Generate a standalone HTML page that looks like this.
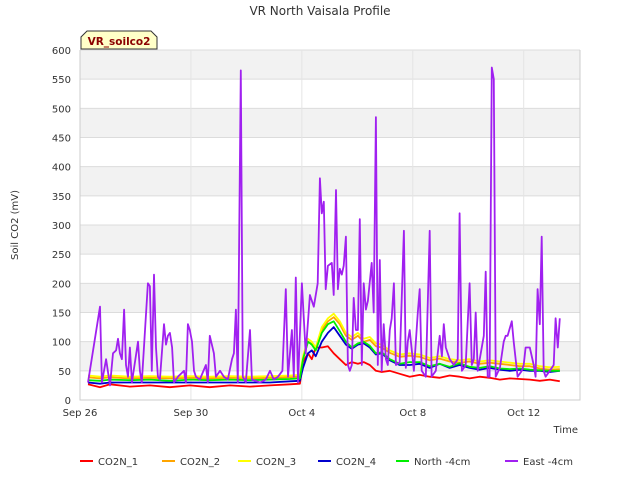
<!DOCTYPE html>
<html><head><meta charset="utf-8"><style>
body{margin:0;background:#fff}
svg{font-family:"DejaVu Sans","Liberation Sans",sans-serif}
</style></head><body>
<svg id="c" width="640" height="480"></svg>
<script>
const yTicks=[0,50,100,150,200,250,300,350,400,450,500,550,600];
const xTickDays=[0,4,8,12,16];
const xTickLabels=["Sep 26","Sep 30","Oct 4","Oct 8","Oct 12"];
const seriesNames=["CO2N_1","CO2N_2","CO2N_3","CO2N_4","North -4cm","East -4cm"];
const seriesColors=["#ff0000","#ffa500","#ffff00","#0000cd","#00ee00","#a020f0"];
const baseDays=[0.29,0.72,1.08,1.80,2.52,3.24,3.96,4.68,5.41,6.13,6.85,7.57,7.93,8.04,8.22,8.36,8.50,8.72,8.94,9.15,9.37,9.59,9.80,10.02,10.23,10.45,10.67,10.88,11.17,11.53,11.89,12.25,12.61,12.97,13.33,13.69,14.05,14.41,14.77,15.14,15.50,15.86,16.22,16.58,16.94,17.30];
const co2n1=[27,22,27,23,25,22,25,22,25,23,25,27,28,65,80,70,90,90,92,80,70,60,65,62,65,60,50,48,50,45,40,43,40,38,42,40,37,40,38,35,37,36,35,33,35,32];
const co2n2=[39,37,39,37,38,37,38,37,38,37,38,39,40,72,100,96,86,120,135,142,130,110,103,110,100,103,92,90,81,74,76,74,68,71,66,64,66,62,64,62,60,58,58,54,52,53];
const co2n3=[42,40,42,40,41,40,41,40,41,40,41,42,43,75,105,100,90,125,140,148,135,115,108,115,105,108,97,95,85,78,80,78,72,75,70,68,70,66,68,66,64,62,62,58,56,57];
const co2n4=[30,28,30,30,30,30,30,30,30,30,30,32,33,55,80,85,75,100,115,125,110,95,88,95,97,90,78,80,68,60,60,62,55,62,55,60,55,52,55,52,50,52,50,50,48,50];
const north=[34,33,35,34,35,33,35,34,35,34,35,36,37,70,100,95,85,115,130,135,118,100,90,97,100,93,80,82,70,62,65,65,58,62,57,63,57,55,58,54,53,54,52,51,50,50];
const eastDays=[0.29,0.72,0.79,0.94,1.08,1.19,1.30,1.37,1.44,1.51,1.59,1.66,1.73,1.80,1.87,2.09,2.16,2.23,2.45,2.52,2.59,2.67,2.74,2.81,2.88,3.03,3.10,3.17,3.24,3.32,3.39,3.53,3.75,3.82,3.89,3.96,4.04,4.11,4.18,4.32,4.54,4.61,4.68,4.83,4.90,5.05,5.19,5.33,5.48,5.55,5.62,5.69,5.80,5.87,5.98,6.13,6.20,6.49,6.70,6.85,6.99,7.14,7.30,7.42,7.50,7.64,7.71,7.78,7.86,8.00,8.14,8.29,8.43,8.57,8.65,8.72,8.79,8.86,8.94,9.08,9.15,9.23,9.30,9.37,9.44,9.51,9.59,9.66,9.73,9.80,9.87,9.95,10.02,10.09,10.16,10.23,10.31,10.38,10.52,10.59,10.67,10.74,10.81,10.88,10.95,11.03,11.10,11.17,11.24,11.32,11.39,11.53,11.68,11.75,11.82,11.89,12.04,12.18,12.25,12.32,12.47,12.61,12.68,12.83,12.97,13.05,13.12,13.19,13.33,13.48,13.62,13.69,13.77,13.91,14.05,14.13,14.20,14.27,14.34,14.56,14.63,14.70,14.77,14.85,14.92,14.99,15.14,15.28,15.35,15.42,15.57,15.64,15.78,15.93,16.00,16.07,16.22,16.36,16.43,16.50,16.58,16.65,16.72,16.79,16.94,17.08,17.15,17.23,17.30];
const east=[30,160,30,70,25,80,85,105,80,70,155,60,40,90,30,100,50,30,200,195,50,215,90,40,35,130,95,110,115,90,30,40,50,30,130,120,100,50,40,35,60,30,110,80,40,50,40,35,70,80,155,30,565,40,30,120,35,30,35,50,35,40,50,190,40,120,40,210,30,200,80,180,160,200,380,320,340,190,230,235,180,360,190,225,215,230,280,60,50,60,175,120,120,310,60,200,155,170,235,150,485,60,240,50,130,70,60,120,140,200,60,65,290,55,100,120,50,150,190,50,40,290,40,50,110,75,130,90,70,60,70,320,50,60,200,60,70,150,50,110,220,40,40,570,550,40,55,100,110,110,135,100,40,50,60,90,90,60,40,190,130,280,50,40,50,60,140,90,140];

const NS="http://www.w3.org/2000/svg";
const svg=document.getElementById('c');
const L=80,R=580,T=50,B=400;
const xs=d=>L+d*(R-L)/18.03;
const ys=v=>B-v*(B-T)/600;
function el(tag,attrs,parent){const e=document.createElementNS(NS,tag);for(const k in attrs)e.setAttribute(k,attrs[k]);(parent||svg).appendChild(e);return e;}

for(let i=0;i<yTicks.length-1;i++){
  if(i%2===1){const r=el('rect',{x:L,y:ys(yTicks[i+1]),width:R-L,height:ys(yTicks[i])-ys(yTicks[i+1]),fill:'#f2f2f2'});
  
  }
}
yTicks.forEach(v=>{
  const g=el('line',{x1:L,x2:R,y1:ys(v),y2:ys(v),stroke:'#dcdcdc','stroke-width':1});
  
  
  const t=el('text',{x:L-9,y:ys(v)+4,'text-anchor':'end','font-size':10,fill:'#333'});
  t.textContent=v;
  
  
});
xTickDays.forEach((d,i)=>{
  const g=el('line',{x1:xs(d),x2:xs(d),y1:T,y2:B,stroke:'#e4e4e4','stroke-width':1});
  
  
  const t=el('text',{x:xs(d),y:B+16,'text-anchor':'middle','font-size':10,fill:'#333'});
  t.textContent=xTickLabels[i];
  
  
});
const ax=el('path',{d:`M${L},${T}V${B}H${R}V${T}`,fill:'none',stroke:'#ccc'});



function line(days,vals,color,name,w){
  const d=days.map((t,i)=>(i?'L':'M')+xs(t).toFixed(1)+','+ys(vals[i]).toFixed(1)).join('');
  const p=el('path',{d:d,fill:'none',stroke:color,'stroke-width':w,'stroke-linejoin':'round'});
  
  
}
line(baseDays,co2n1,seriesColors[0],'series-co2n-1',1.8);
line(baseDays,co2n2,seriesColors[1],'series-co2n-2',1.8);
line(baseDays,co2n3,seriesColors[2],'series-co2n-3',1.8);
line(baseDays,co2n4,seriesColors[3],'series-co2n-4',1.8);
line(baseDays,north,seriesColors[4],'series-north-4cm',1.8);
line(eastDays,east,seriesColors[5],'series-east-4cm',1.8);

let t=el('text',{x:320,y:15,'text-anchor':'middle','font-size':12,fill:'#333'});t.textContent='VR North Vaisala Profile';


t=el('text',{x:18,y:225,'text-anchor':'middle','font-size':10,fill:'#333',transform:'rotate(-90 18 225)'});t.textContent='Soil CO2 (mV)';


t=el('text',{x:578,y:433,'text-anchor':'end','font-size':10,fill:'#333'});t.textContent='Time';



const bx=el('path',{d:'M81,49V37L87,31H151L157,37V49Z',fill:'#ffffc8',stroke:'#333','stroke-width':1});


t=el('text',{x:119,y:45,'text-anchor':'middle','font-size':10.5,'font-weight':'bold',fill:'#8b0000'});t.textContent='VR_soilco2';



const legX=[80,162,238,318,396,505];
seriesNames.forEach((n,i)=>{
  const g=el('g',{});
  
  
  el('line',{x1:legX[i],x2:legX[i]+13,y1:461,y2:461,stroke:seriesColors[i],'stroke-width':2},g);
  const tx=el('text',{x:legX[i]+18,y:465,'font-size':10,fill:'#333'},g);
  tx.textContent=n;
});
</script>
</body></html>
